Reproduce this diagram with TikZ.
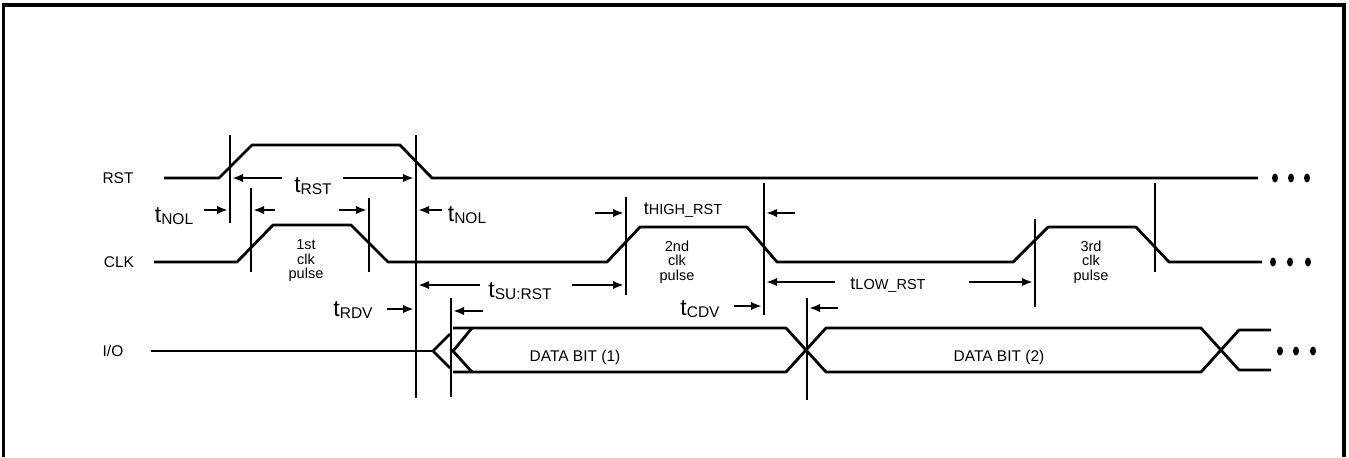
\documentclass[tikz,border=0pt]{standalone}
\usepackage{fontspec}
\setmainfont{Liberation Sans}
\usetikzlibrary{arrows.meta}

\newcommand{\tlab}[1]{{\fontsize{11.5}{11.5}\selectfont t}\raisebox{-1pt}{\fontsize{7.75}{7.75}\selectfont #1}}
\newcommand{\tlabsmall}[1]{{\fontsize{9}{9}\selectfont t}{\fontsize{7.25}{7.25}\selectfont #1}}

\tikzset{
  signal/.style={line width=1.4pt, line join=round},
  marker/.style={line width=1.1pt},
  tarrow/.style={line width=1.2pt, -{Latex[length=5.5pt,width=4.2pt]}},
  siglabel/.style={font=\fontsize{7.75}{8}\selectfont, inner sep=0pt},
  pulselabel/.style={font=\fontsize{7.25}{7.25}\selectfont, align=center, inner sep=0pt},
  timelabel/.style={inner sep=0pt}
}

\begin{document}
\begin{tikzpicture}[x=0.5pt,y=-0.5pt]

\useasboundingbox (0,0) rectangle (1349,457);

\draw[line width=1.6pt] (3.5,457) -- (3.5,5) -- (1344,5) -- (1344,457);

\node[siglabel] (rst) at (118,178) {RST};
\node[siglabel] (clk) at (119,262) {CLK};
\node[siglabel] (io) at (113,351) {I/O};

% RST
\draw[signal] (164,178) -- (219,178) -- (252,145) -- (400,145) -- (432,178) -- (1258,178);

% CLK
\draw[signal] (154,262) -- (237,262) -- (273,225) -- (351,225) -- (388,262)
  -- (607,262) -- (640,227) -- (747,227) -- (777,262)
  -- (1013,262) -- (1048,227) -- (1136,227) -- (1169,262) -- (1262,262);

% I/O
\draw[signal] (151,351) -- (433,351);
\draw[signal] (450,334) -- (433,351) -- (450,368);
\draw[signal] (472,328) -- (453,351) -- (472,372);
\draw[signal] (453,328) -- (786,328) -- (826,372) -- (1201,372) -- (1239,330) -- (1271,330);
\draw[signal] (453,372) -- (786,372) -- (826,328) -- (1201,328) -- (1239,370) -- (1271,370);

\foreach \x\y in {1275/178,1291/178,1307/178,1273/262,1290/262,1308/262,1280/351,1296/351,1313/351}
\fill (\x,\y) ellipse (3 and 4.5);

% timing markers
\foreach \x\ya\yb in {230/135/223,416/135/398,251/188/272,369/198/272,626/197/295,
  764/183/315,1035/219/307,1155/183/272,451/298/397,807/298/400}
\draw[marker] (\x,\ya) -- (\x,\yb);

% dimension arrows
\foreach \xa\xb\y in {204/228/210,275/253/210,339/367/210,442/418/210,
  282/232/178,343/414/178,595/624/213,795/766/213,480/418/285,572/624/285,
  387/414/309,483/453/311,734/762/306,838/809/308,835/766/282,969/1033/282}
\draw[tarrow] (\xa,\y) -- (\xb,\y);

\node[timelabel] (tnol1) at (174,216) {\tlab{NOL}};
\node[timelabel] (trst) at (313,186) {\tlab{RST}};
\node[timelabel] (tnol2) at (467,215) {\tlab{NOL}};
\node[timelabel] (thigh) at (683,210) {\tlabsmall{HIGH\_RST}};
\node[timelabel] (tsu) at (520,291) {\tlab{SU:RST}};
\node[timelabel] (trdv) at (353,310) {\tlab{RDV}};
\node[timelabel] (tcdv) at (700,309) {\tlab{CDV}};
\node[timelabel] (tlow) at (888,285) {\tlabsmall{LOW\_RST}};

\node[pulselabel] (pulse1) at (306,261) {1st\\clk\\pulse};
\node[pulselabel] (pulse2) at (677,262) {2nd\\clk\\pulse};
\node[pulselabel] (pulse3) at (1091,262) {3rd\\clk\\pulse};

\node[siglabel] (bit1) at (575,357) {DATA BIT (1)};
\node[siglabel] (bit2) at (999,357) {DATA BIT (2)};

\end{tikzpicture}
\end{document}
